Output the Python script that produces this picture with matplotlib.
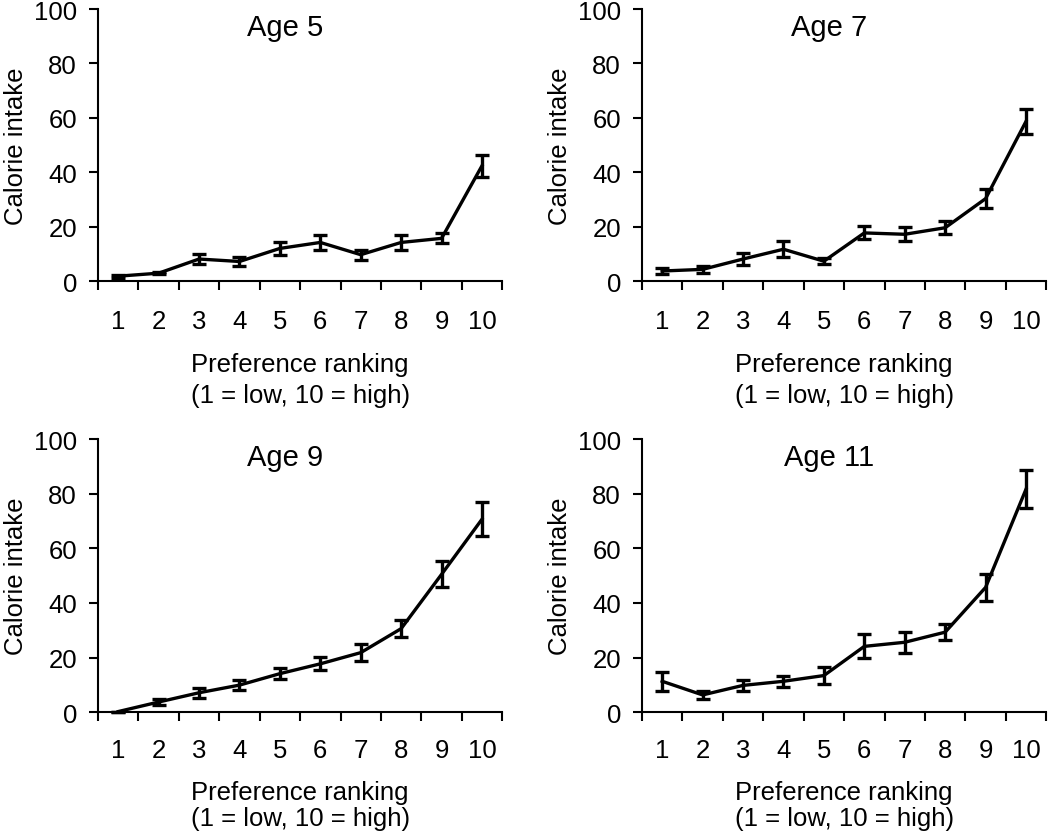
import numpy as np
import matplotlib
matplotlib.use("Agg")
import matplotlib.pyplot as plt

plt.rcParams['font.family'] = ['Liberation Sans', 'DejaVu Sans']

rankings = list(range(1, 10 + 1))
titles = ["Age 5", "Age 7", "Age 9", "Age 11"]

age5_mean = [1.8, 2.9, 8.1, 7.2, 12.0, 14.2, 9.7, 14.2, 15.7, 42.4]
age5_err = [0.5, 0.4, 1.8, 1.7, 2.4, 2.9, 1.8, 2.6, 1.8, 4.0]

age7_mean = [3.7, 4.3, 8.1, 11.7, 7.3, 17.7, 17.2, 19.6, 30.3, 58.7]
age7_err = [1.2, 1.2, 2.3, 3.0, 1.2, 2.4, 2.6, 2.3, 3.4, 4.7]

age9_mean = [0.2, 3.7, 7.1, 9.9, 14.1, 17.7, 21.8, 30.6, 50.5, 70.7]
age9_err = [0.0, 1.2, 1.9, 1.8, 2.1, 2.4, 3.0, 3.2, 4.8, 6.2]

age11_mean = [11.3, 6.3, 9.8, 11.3, 13.4, 24.1, 25.6, 29.3, 45.7, 81.7]
age11_err = [3.5, 1.6, 2.1, 2.1, 3.0, 4.4, 3.8, 2.9, 5.1, 6.9]

means = [age5_mean, age7_mean, age9_mean, age11_mean]
errs = [age5_err, age7_err, age9_err, age11_err]

fig = plt.figure(figsize=(10.5, 8.37), dpi=100)

# axes boxes in figure fractions: left, bottom, width, height
boxes = [
    [0.0933, 0.663, 0.385, 0.325],
    [0.6114, 0.663, 0.385, 0.325],
    [0.0933, 0.148, 0.385, 0.326],
    [0.6114, 0.148, 0.385, 0.326],
]

FS = 18.5

for i, (box, title, m, e) in enumerate(zip(boxes, titles, means, errs)):
    bottom_row = i >= 2
    ax = fig.add_axes(box)
    ax.errorbar(rankings, m, yerr=e, color="black", lw=2.4,
                elinewidth=2.4, capsize=4.8, capthick=2.4, clip_on=False)
    ax.set_xlim(0.5, 10.5)
    ax.set_ylim(0, 100)
    ax.set_yticks(range(0, 101, 20))
    # tick marks sit between categories, labels at the centres
    ax.set_xticks(np.arange(0.5, 11, 1.0))
    ax.set_xticklabels([])
    ax.set_xticks(rankings, minor=True)
    ax.set_xticklabels([str(r) for r in rankings], minor=True)
    ax.tick_params(axis="x", which="major", direction="out", length=6.5,
                   width=1.5)
    ax.tick_params(axis="x", which="minor", length=0,
                   pad=18.5 if bottom_row else 20, labelsize=FS)
    ax.tick_params(axis="y", direction="out", length=6.5, width=1.5,
                   pad=8.6, labelsize=FS)
    for side in ["top", "right"]:
        ax.spines[side].set_visible(False)
    for side in ["left", "bottom"]:
        ax.spines[side].set_linewidth(1.5)
    ax.set_ylabel("Calorie intake", fontsize=FS, labelpad=4.5)
    ax.set_xlabel("Preference ranking\n(1 = low, 10 = high)",
                  fontsize=FS, labelpad=13 if bottom_row else 14,
                  linespacing=1.12 if bottom_row else 1.35)
    ax.text(0.463, 0.934, title, transform=ax.transAxes, ha="center",
            va="center", fontsize=21)

fig.savefig("out.png", dpi=100)
